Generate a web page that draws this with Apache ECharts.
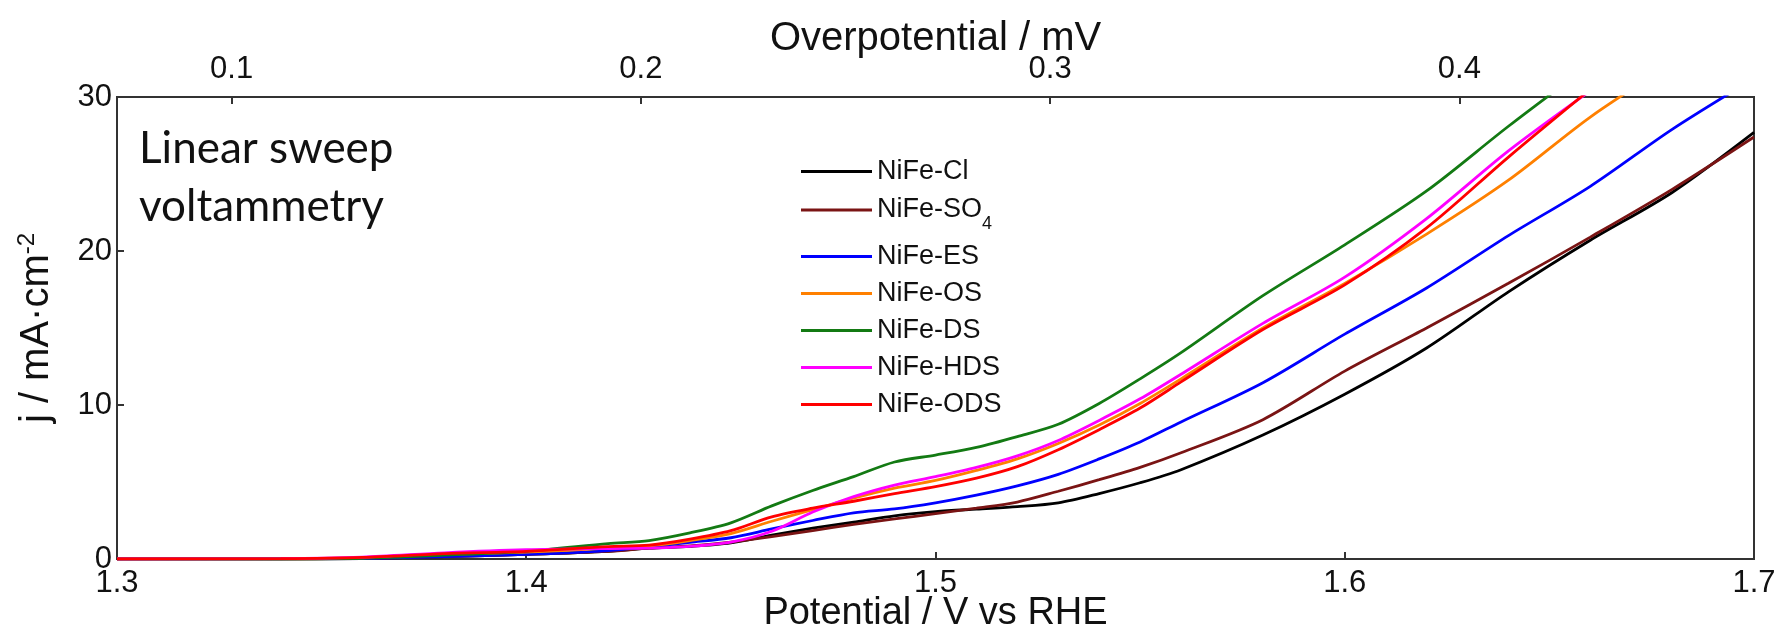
<!DOCTYPE html>
<html>
<head>
<meta charset="utf-8">
<script src="https://cdn.jsdelivr.net/npm/echarts@6/dist/echarts.min.js"></script>
<style>
  html, body { margin: 0; padding: 0; background: #fff; }
  #chart { width: 1775px; height: 631px; }
</style>
</head>
<body>
<div id="chart"></div>
<script>
// potential grid (V vs RHE), shared by all curves
const potential = [1.30, 1.34, 1.36, 1.38, 1.40, 1.42, 1.43, 1.44, 1.45, 1.46, 1.47, 1.48, 1.49, 1.50,
  1.51, 1.52, 1.53, 1.54, 1.55, 1.56, 1.58, 1.60, 1.62, 1.64, 1.66, 1.68, 1.70]

// current density j / mA cm-2 (curves leave the frame at 30)
const jCl = [0, 0, 0.03, 0.15, 0.3, 0.5, 0.7, 0.82, 1.05, 1.55, 2.0, 2.4, 2.8, 3.07,
  3.24, 3.4, 3.65, 4.25, 4.95, 5.8, 8.05, 10.7, 13.7, 17.35, 20.7, 23.8, 27.7]
const jSO4 = [0, 0, 0.03, 0.15, 0.3, 0.5, 0.7, 0.85, 1.1, 1.45, 1.85, 2.25, 2.6, 2.95,
  3.3, 3.7, 4.4, 5.15, 5.95, 6.9, 9.05, 12.2, 15.0, 17.9, 20.9, 24.0, 27.4]
const jES = [0, 0, 0.03, 0.15, 0.3, 0.55, 0.8, 1.08, 1.38, 1.95, 2.5, 3.0, 3.25, 3.65,
  4.15, 4.75, 5.5, 6.5, 7.6, 8.9, 11.45, 14.6, 17.6, 21.0, 24.2, 27.9, 31.2]
const jOS = [0, 0, 0.08, 0.3, 0.45, 0.7, 0.85, 1.2, 1.65, 2.45, 3.2, 3.95, 4.6, 5.1,
  5.75, 6.5, 7.5, 8.7, 10.1, 11.7, 15.0, 17.9, 21.1, 24.6, 28.7, 32.2]
const jDS = [0, 0, 0.05, 0.25, 0.5, 1.0, 1.2, 1.7, 2.35, 3.45, 4.45, 5.35, 6.3, 6.75,
  7.25, 7.95, 8.75, 10.1, 11.7, 13.4, 17.1, 20.4, 23.9, 28.1, 32.1]
const jHDS = [0, 0.02, 0.12, 0.4, 0.6, 0.68, 0.7, 0.82, 1.1, 1.8, 3.05, 4.05, 4.8, 5.35,
  5.95, 6.7, 7.7, 9.0, 10.4, 12.0, 15.3, 18.3, 22.1, 26.5, 30.4]
const jODS = [0, 0.02, 0.1, 0.35, 0.5, 0.8, 0.9, 1.29, 1.84, 2.74, 3.3, 3.75, 4.25, 4.7,
  5.25, 6.0, 7.1, 8.4, 9.8, 11.5, 14.9, 17.8, 21.5, 26.1, 30.5]

const names = ['NiFe-Cl', 'NiFe-SO4', 'NiFe-ES', 'NiFe-OS', 'NiFe-DS', 'NiFe-HDS', 'NiFe-ODS']
const curves = [jCl, jSO4, jES, jOS, jDS, jHDS, jODS]
const colors = ['#000000', '#7a1414', '#0000ff', '#ff8000', '#137a13', '#ff00ff', '#ff0000']

const xTicks = [1.3, 1.7]
const yTicks = [0, 30]
const eRev = 1.228 // overpotential = potential - eRev

const dom = echarts.init(document.getElementById('chart'))
const axisFont = 'Liberation Sans'

let series = curves.map((vals, i) => ({
  name: names[i],
  type: 'line',
  smooth: 0.3,
  showSymbol: false,
  symbol: 'none',
  clip: true,
  lineStyle: { width: 2.8 },
  data: vals.map((v, k) => [potential[k], v])
}))

let option = {
  animation: false,
  color: colors,
  grid: {
    left: 117,
    right: 21,
    top: 97,
    bottom: 72,
    containLabel: false,
    outerBoundsMode: 'none',
    show: true,
    borderColor: '#333',
    borderWidth: 2
  },
  graphic: [{
    type: 'text',
    left: 139,
    top: 120,
    style: {
      text: 'Linear sweep\nvoltammetry',
      font: '44px Lato',
      lineHeight: 58,
      fill: '#111'
    }
  }],
  legend: {
    orient: 'vertical',
    left: 796,
    top: 153,
    icon: 'rect',
    itemWidth: 71,
    itemHeight: 3,
    itemGap: 10,
    data: names,
    formatter: function (name) {
      if (name === 'NiFe-SO4') return '{m|NiFe-SO}{s|4}'
      return '{m|' + name + '}'
    },
    textStyle: {
      fontFamily: axisFont,
      fontSize: 27,
      color: '#111',
      rich: {
        m: { fontFamily: axisFont, fontSize: 27, lineHeight: 30, color: '#111' },
        s: { fontFamily: axisFont, fontSize: 18, lineHeight: 18, color: '#111', padding: [20, 0, 0, 0], verticalAlign: 'top' }
      }
    }
  },
  xAxis: [{
    type: 'value',
    position: 'bottom',
    min: xTicks[0],
    max: xTicks[1],
    interval: 0.1,
    name: 'Potential / V vs RHE',
    nameLocation: 'middle',
    nameMoveOverlap: false,
    nameGap: 36,
    nameTextStyle: { fontFamily: axisFont, fontSize: 38, color: '#111' },
    axisLine: { lineStyle: { color: '#333', width: 2 } },
    axisTick: { inside: true, length: 7, lineStyle: { color: '#333', width: 2 } },
    axisLabel: {
      fontFamily: axisFont, fontSize: 31, color: '#111', margin: 9,
      formatter: v => v.toFixed(1)
    },
    splitLine: { show: false }
  }, {
    type: 'value',
    position: 'top',
    min: xTicks[0] - eRev,
    max: xTicks[1] - eRev,
    name: 'Overpotential / mV',
    nameLocation: 'middle',
    nameMoveOverlap: false,
    nameGap: 38,
    nameTextStyle: { fontFamily: axisFont, fontSize: 40, color: '#111' },
    axisLine: { lineStyle: { color: '#333', width: 2 } },
    axisTick: { inside: true, length: 7, lineStyle: { color: '#333', width: 2 } },
    axisLabel: {
      fontFamily: axisFont, fontSize: 31, color: '#111', margin: 12,
      showMinLabel: false, showMaxLabel: false,
      formatter: v => v.toFixed(1)
    },
    splitLine: { show: false }
  }],
  yAxis: {
    type: 'value',
    min: yTicks[0],
    max: yTicks[1],
    interval: 10,
    name: '{a|j / mA·cm}{b|-2}',
    nameLocation: 'middle',
    nameGap: 58,
    nameTextStyle: {
      rich: {
        a: { fontFamily: axisFont, fontSize: 40, color: '#111', lineHeight: 44 },
        b: { fontFamily: axisFont, fontSize: 24, color: '#111', verticalAlign: 'top', lineHeight: 24 }
      }
    },
    axisLine: { show: true, lineStyle: { color: '#333', width: 2 } },
    axisTick: { show: true, inside: true, length: 7, lineStyle: { color: '#333', width: 2 } },
    axisLabel: { fontFamily: axisFont, fontSize: 31, color: '#111', margin: 5 },
    splitLine: { show: false }
  },
  series: series
}

dom.setOption(option, true)
window.addEventListener('resize', () => dom.resize())
</script>
</body>
</html>
